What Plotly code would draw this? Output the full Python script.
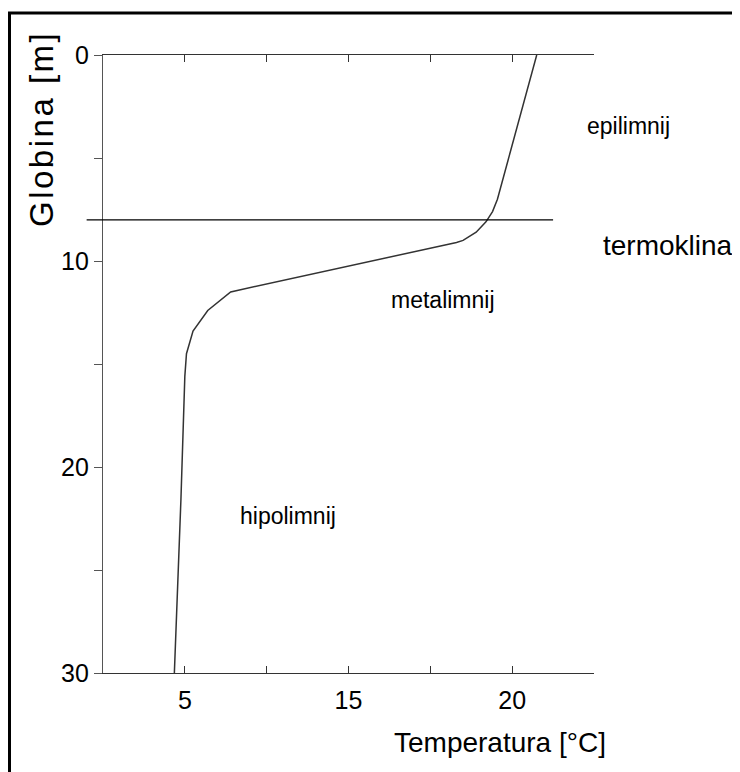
import plotly.graph_objects as go

# ---- data ----
depth = [0, 7.0, 7.6, 8.1, 8.6, 9.0, 9.1, 11.5, 12.4, 13.4, 14.5, 15.6, 21.6, 30]
temperature = [20.75, 19.55, 19.4, 19.2, 18.9, 18.5, 18.3, 11.4, 10.7, 10.25, 10.05, 10.0, 9.88, 9.68]

x_range = [7.5, 22.5]
y_range = [30, 0]
x_tick_vals = [10, 12.5, 15, 17.5, 20, 22.5]
x_tick_text = ["5", "", "15", "", "20", ""]
y_tick_vals = [0, 5, 10, 15, 20, 25, 30]
y_tick_text = ["0", "", "10", "", "20", "", "30"]

thermocline_depth = 8.0
thermocline_span = [7.0, 21.25]

zone_labels = ["epilimnij", "termoklina", "metalimnij", "hipolimnij"]
zone_temp = [23.55, 24.75, 17.9, 13.15]
zone_depth = [3.45, 9.25, 11.9, 22.4]
zone_size = [23, 28, 23, 23]

x_title = "Temperatura [°C]"
y_title = "Globina [m]"

FONT = "Arial, 'Liberation Sans', sans-serif"

# page body has an 8px margin, so the figure is drawn 8px in from the corner
W, H = 732, 764
ML, MT, PW, PH = 95, 47, 491, 618
MR = W - ML - PW
MB = H - MT - PH


def x_domain(v):
    return (v - x_range[0]) / (x_range[1] - x_range[0])


def px_x(p):  # page pixel -> paper x
    return (p - 8 - ML) / PW


def px_y(p):  # page pixel -> paper y
    return (MT + PH - (p - 8)) / PH


fig = go.Figure()
fig.add_trace(go.Scatter(
    x=temperature, y=depth, mode="lines",
    line=dict(color="#333333", width=1.5),
    showlegend=False, hoverinfo="skip",
))

# thermocline line
fig.add_shape(type="line", xref="x domain", yref="y",
              x0=x_domain(thermocline_span[0]), x1=x_domain(thermocline_span[1]),
              y0=thermocline_depth, y1=thermocline_depth,
              line=dict(color="black", width=1.2))

# outer frame
fig.add_shape(type="rect", xref="paper", yref="paper",
              x0=px_x(9.5), x1=px_x(760), y0=px_y(790), y1=px_y(13),
              line=dict(color="black", width=3), fillcolor="rgba(0,0,0,0)")

for t, tx, ty, sz in zip(zone_labels, zone_temp, zone_depth, zone_size):
    fig.add_annotation(x=x_domain(tx), y=ty, xref="x domain", yref="y", text=t,
                       showarrow=False, xanchor="center", yanchor="middle",
                       font=dict(family=FONT, size=sz, color="black"))

fig.add_annotation(xref="paper", yref="paper", x=px_x(500), y=px_y(742),
                   xanchor="center", yanchor="middle", text=x_title,
                   showarrow=False, font=dict(family=FONT, size=28, color="black"))
fig.add_annotation(xref="paper", yref="paper", x=px_x(41), y=px_y(129),
                   xanchor="center", yanchor="middle",
                   text='<span style="letter-spacing:2.5px">' + y_title + '</span>',
                   textangle=-90, showarrow=False,
                   font=dict(family=FONT, size=33, color="black"))

fig.update_layout(
    width=W, height=H,
    margin=dict(l=ML, r=MR, t=MT, b=MB),
    paper_bgcolor="white", plot_bgcolor="white",
    font=dict(family=FONT, size=25, color="black"),
    showlegend=False,
)

fig.update_xaxes(range=x_range, tickmode="array", tickvals=x_tick_vals, ticktext=x_tick_text,
                 ticks="inside", ticklen=7, tickcolor="#333333", tickwidth=1,
                 showline=True, linecolor="#333333", linewidth=1.3, mirror="ticks",
                 showgrid=False, zeroline=False, tickfont=dict(size=25),
                 ticklabelstandoff=5)
fig.update_yaxes(range=y_range, tickmode="array", tickvals=y_tick_vals, ticktext=y_tick_text,
                 ticks="outside", ticklen=8, tickcolor="#555555", tickwidth=1,
                 showline=True, linecolor="#555555", linewidth=1.3, mirror=False,
                 showgrid=False, zeroline=False, tickfont=dict(size=25))

fig.write_html("out.html")
